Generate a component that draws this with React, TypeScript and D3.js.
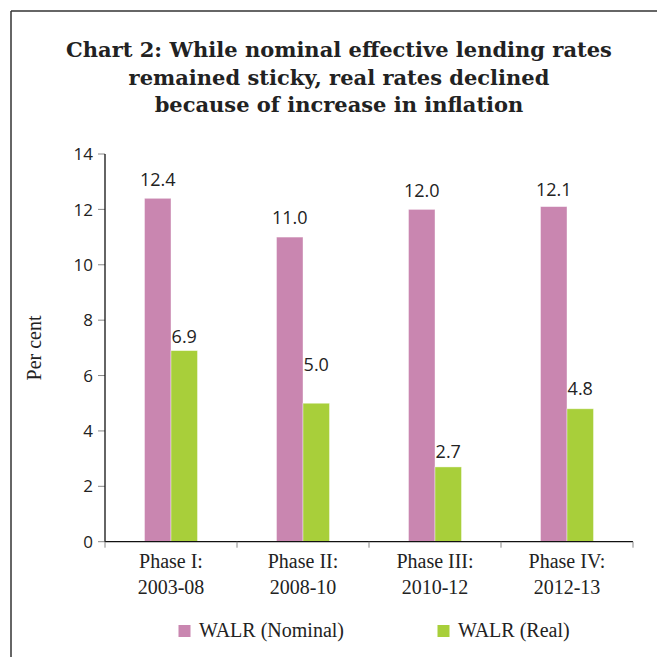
import React from "react";
import * as d3 from "d3";

const categories = ["Phase I:|2003-08", "Phase II:|2008-10", "Phase III:|2010-12", "Phase IV:|2012-13"];
const nominal = [12.4, 11.0, 12.0, 12.1];
const real = [6.9, 5.0, 2.7, 4.8];
const seriesNames = ["WALR (Nominal)", "WALR (Real)"];
const yTicks = [0, 2, 4, 6, 8, 10, 12, 14];
const titleLines = [
  "Chart 2: While nominal effective lending rates",
  "remained sticky, real rates declined",
  "because of increase in inflation",
];
// label lift above bar top (annotation placement)
const nominalLift = [12, 13, 12, 11];
const realLift = [8, 32, 9, 14];

const COLORS = ["#c986b0", "#a8cf3a"];

export default function App() {
  const W = 657, H = 657;
  const left = 105, right = 633, top = 154, bottom = 541.7;
  const x = d3.scaleBand<string>().domain(categories).range([left, right]).paddingInner(0).paddingOuter(0);
  const y = d3.scaleLinear().domain([0, 14]).range([bottom, top]);
  const barW = 26.5;
  const series = [nominal, real];
  const lifts = [nominalLift, realLift];
  const serif = "'Liberation Serif', 'Times New Roman', serif";
  const titleFont = "'DejaVu Serif', serif";
  const sans = "'Open Sans', 'Noto Sans', sans-serif";

  return (
    <svg width={W} height={H} style={{ position: "absolute", left: 0, top: 0, background: "#fff" }}>
      <rect x={0} y={0} width={W} height={H} fill="#fff" />
      <line x1={11} y1={11} x2={W} y2={11} stroke="#333" strokeWidth={1.5} />
      <line x1={11} y1={11} x2={11} y2={H} stroke="#333" strokeWidth={1.5} />
      {titleLines.map((t, i) => (
        <text key={i} x={339} y={57 + i * 27.5} textAnchor="middle" fontFamily={titleFont} fontWeight="bold" fontSize={21} fill="#222">
          {t}
        </text>
      ))}
      {/* y ticks */}
      {yTicks.map((t) => (
        <g key={t}>
          <line x1={98} x2={left} y1={y(t)} y2={y(t)} stroke="#888" strokeWidth={1} />
          <text x={93} y={y(t)} dy="0.36em" textAnchor="end" fontFamily={sans} fontSize={17} fill="#222">
            {t}
          </text>
        </g>
      ))}
      <text transform={`translate(41,348) rotate(-90)`} textAnchor="middle" fontFamily={serif} fontSize={20} fill="#222">
        Per cent
      </text>
      {/* bars */}
      {categories.map((c, i) => {
        const cx = (x(c) as number) + x.bandwidth() / 2;
        return (
          <g key={c}>
            {series.map((s, k) => {
              const bx = cx - barW + k * barW;
              return (
                <g key={k}>
                  <rect x={bx} y={y(s[i])} width={barW} height={bottom - y(s[i])} fill={COLORS[k]} stroke="#fff" strokeOpacity={0.5} strokeWidth={0.8} />
                  <text x={bx + barW / 2} y={y(s[i]) - lifts[k][i]} textAnchor="middle" fontFamily={sans} fontSize={18} fill="#222">
                    {s[i].toFixed(1)}
                  </text>
                </g>
              );
            })}
            {c.split("|").map((ln, j) => (
              <text key={j} x={cx} y={568 + j * 25.5} textAnchor="middle" fontFamily={serif} fontSize={20} fill="#222">
                {ln}
              </text>
            ))}
          </g>
        );
      })}
      {/* axes */}
      <line x1={left} x2={left} y1={top} y2={bottom} stroke="#111" strokeWidth={1.3} />
      <line x1={left} x2={right} y1={bottom} y2={bottom} stroke="#111" strokeWidth={1.3} />
      {[...categories.map((c) => x(c) as number), right].map((tx, i) => (
        <line key={i} x1={tx} x2={tx} y1={bottom} y2={bottom + 6} stroke="#888" strokeWidth={1} />
      ))}
      {/* legend */}
      {seriesNames.map((n, k) => (
        <g key={n} transform={`translate(${k === 0 ? 178.5 : 437.5},625)`}>
          <rect x={0} y={0} width={12} height={12} fill={COLORS[k]} />
          <text x={20.5} y={12.3} fontFamily={serif} fontSize={20} fill="#222">
            {n}
          </text>
        </g>
      ))}
    </svg>
  );
}
